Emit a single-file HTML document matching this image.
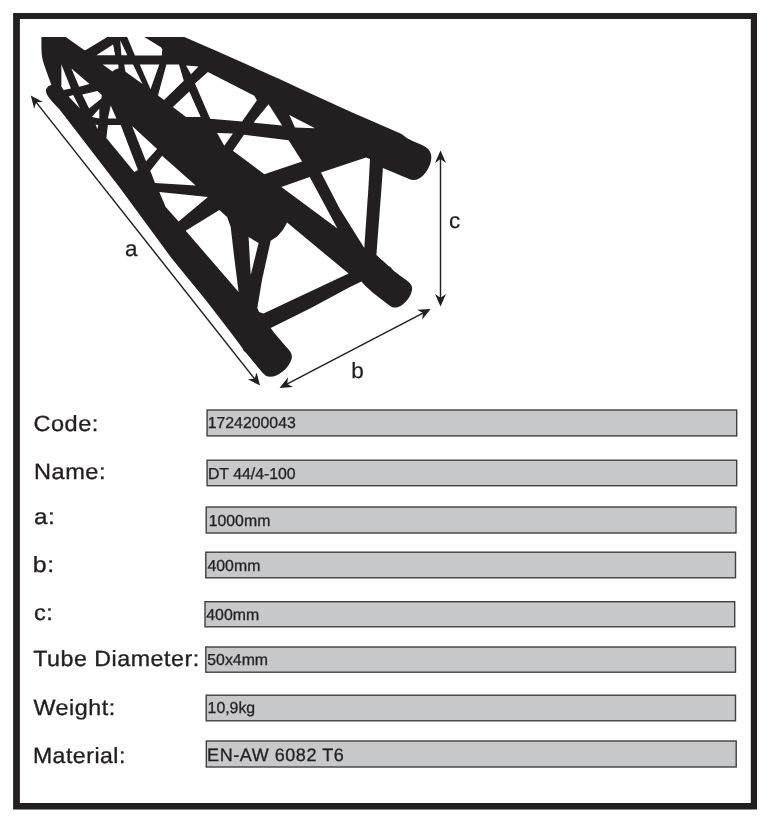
<!DOCTYPE html>
<html><head><meta charset="utf-8"><title>DT 44/4-100</title>
<style>
html,body{margin:0;padding:0;background:#fff;}
body{width:770px;height:823px;position:relative;overflow:hidden;font-family:"Liberation Sans",sans-serif;color:#231f20;}
svg{position:absolute;left:0;top:0;display:block;will-change:transform;}
svg text{font-family:"Liberation Sans",sans-serif;white-space:pre;}
</style></head><body>
<svg width="770" height="823" viewBox="0 0 770 823" text-rendering="geometricPrecision">
<path d="M13.1 13.1H757V809.5H13.1ZM19.9 19V803.1H750.8V19Z" fill="#231f20" fill-rule="evenodd"/>
<path d="M41.40 37.00L65.70 37.00L83.77 49.74Q85.00 50.60 86.28 49.82L107.30 37.00L184.30 37.00L214.30 50.00L280.00 79.30L302.90 90.00L350.00 111.40L400.50 133.60L401.85 134.30Q403.20 135.00 404.80 136.60L404.80 136.60Q406.40 138.20 412.50 140.90L418.60 143.60L421.35 144.75Q424.10 145.90 426.35 147.50L426.35 147.50Q428.60 149.10 429.75 151.35L429.75 151.35Q430.90 153.60 431.20 155.90L431.20 155.90Q431.50 158.20 430.75 161.85L430.75 161.85Q430.00 165.50 427.95 169.10L427.95 169.10Q425.90 172.70 423.65 175.00L423.65 175.00Q421.40 177.30 418.65 178.65L418.65 178.65Q415.90 180.00 413.65 180.00L413.65 180.00Q411.40 180.00 409.10 179.10L409.10 179.10Q406.80 178.20 394.85 173.05L382.90 167.90L381.70 185.00L376.40 255.00L388.60 265.90L390.00 266.80Q391.40 267.70 391.85 268.85L391.85 268.85Q392.30 270.00 399.55 275.25L406.80 280.50L408.65 282.05Q410.50 283.60 411.40 285.45L411.40 285.45Q412.30 287.30 412.05 289.55L412.05 289.55Q411.80 291.80 410.65 294.55L410.65 294.55Q409.50 297.30 407.25 300.00L407.25 300.00Q405.00 302.70 402.75 304.55L402.75 304.55Q400.50 306.40 398.20 307.05L398.20 307.05Q395.90 307.70 394.10 307.50L394.10 307.50Q392.30 307.30 390.90 306.40L390.90 306.40Q389.50 305.50 380.90 298.90L372.30 292.30L365.00 285.50L361.40 281.40L350.00 287.00L310.00 308.60L270.70 327.90L274.10 332.70L285.90 346.40L288.20 348.90Q290.50 351.40 291.40 353.90L291.40 353.90Q292.30 356.40 291.60 359.10L291.60 359.10Q290.90 361.80 288.40 365.45L288.40 365.45Q285.90 369.10 282.70 371.60L282.70 371.60Q279.50 374.10 276.35 375.45L276.35 375.45Q273.20 376.80 270.45 376.80L270.45 376.80Q267.70 376.80 265.90 375.65L265.90 375.65Q264.10 374.50 262.30 372.50L262.30 372.50Q260.50 370.50 253.20 361.60L245.90 352.70L244.55 351.60Q243.20 350.50 242.95 349.30L242.95 349.30Q242.70 348.10 224.20 324.05L205.70 300.00L171.40 258.00L120.00 188.00L60.00 110.00L54.65 104.30Q49.30 98.60 47.65 95.75L47.65 95.75Q46.00 92.90 45.85 91.10L45.85 91.10Q45.70 89.30 47.00 87.70L47.00 87.70Q48.30 86.10 49.85 85.55L51.40 85.00L47.50 74.30Q43.60 63.60 42.50 58.95L42.50 58.95Q41.40 54.30 41.40 45.65Z" fill="#231f20"/>
<polygon points="96.4,55.3 113.1,44.6 115.1,55.3" fill="#fff"/>
<polygon points="120.2,40.3 121.4,55.3 127.3,55.3" fill="#fff"/>
<polygon points="126.8,36.0 142.7,36.0 161.0,47.3 162.3,49.5 161.8,55.4 134.9,55.4" fill="#fff"/>
<polygon points="61.4,64.5 61.4,86.4 63.6,90.0 70.9,88.6" fill="#fff"/>
<polygon points="71.4,68.6 79.1,86.8 89.5,84.1" fill="#fff"/>
<polygon points="68.6,96.4 73.2,95.0 80.0,108.6" fill="#fff"/>
<polygon points="82.3,94.5 97.3,90.9 101.8,95.0 101.4,98.6 89.1,108.6" fill="#fff"/>
<polygon points="102.7,64.6 118.4,64.6 118.4,68.6 115.0,69.5 112.4,71.4" fill="#fff"/>
<polygon points="124.2,64.6 133.0,64.6 142.5,84.0 125.5,71.8" fill="#fff"/>
<polygon points="139.8,64.6 159.3,64.6 150.5,89.3" fill="#fff"/>
<polygon points="166.4,64.6 179.0,64.6 183.8,80.7 164.0,100.0 158.0,95.5" fill="#fff"/>
<polygon points="186.0,65.6 198.4,66.4 191.0,74.3" fill="#fff"/>
<polygon points="195.0,83.6 207.9,72.1 254.3,95.7 256.9,100.3 242.1,121.4 210.2,118.8" fill="#fff"/>
<polygon points="189.3,91.6 200.7,117.1 186.0,117.1 172.9,107.1" fill="#fff"/>
<polygon points="268.6,104.3 253.6,122.6 282.1,125.4" fill="#fff"/>
<polygon points="289.3,115.0 315.0,128.3 295.0,127.4" fill="#fff"/>
<polygon points="232.9,150.7 244.0,134.8 288.6,140.3 302.1,161.4 264.3,174.3" fill="#fff"/>
<polygon points="281.4,186.9 309.7,176.9 337.4,228.6" fill="#fff"/>
<polygon points="321.0,172.6 366.0,157.5 370.0,159.0 368.6,185.0 364.3,247.9 340.0,209.3" fill="#fff"/>
<polygon points="287.1,222.6 348.6,273.6 263.5,313.5 259.0,312.0 257.3,308.0 262.0,280.0 270.7,240.7 277.1,236.4 282.9,230.0" fill="#fff"/>
<polygon points="248.6,237.1 258.6,242.9 250.7,275.0" fill="#fff"/>
<polygon points="219.3,210.0 227.1,217.1 230.7,227.1 234.3,258.0 238.6,292.1 185.7,230.7" fill="#fff"/>
<polygon points="91.9,117.0 99.3,108.6 99.3,118.5" fill="#fff"/>
<polygon points="95.7,124.6 98.3,125.3 97.3,129.0" fill="#fff"/>
<polygon points="110.7,105.5 107.9,118.6 116.4,118.6" fill="#fff"/>
<polygon points="107.9,125.0 120.7,125.0 137.9,170.0 134.3,172.1 106.4,137.9" fill="#fff"/>
<polygon points="132.1,126.0 157.1,149.0 146.0,161.2" fill="#fff"/>
<polygon points="217.1,132.9 232.9,133.6 224.3,145.7" fill="#fff"/>
<polygon points="162.1,155.7 195.7,185.5 155.0,182.9 150.3,170.7" fill="#fff"/>
<polygon points="159.3,192.1 207.9,197.1 178.6,221.4 165.7,207.1" fill="#fff"/>
<line x1="33.3" y1="98.6" x2="257.5" y2="382.5" stroke="#231f20" stroke-width="1.45"/>
<polygon points="30.8,95.5 34.2,108.7 36.2,102.3 42.9,101.9" fill="#231f20"/>
<polygon points="260.0,385.6 247.9,379.2 254.6,378.8 256.6,372.4" fill="#231f20"/>
<line x1="283.0" y1="386.1" x2="427.2" y2="310.8" stroke="#231f20" stroke-width="1.45"/>
<polygon points="279.5,388.0 293.1,387.1 287.2,384.0 288.0,377.3" fill="#231f20"/>
<polygon points="430.7,308.9 422.2,319.6 423.0,312.9 417.1,309.8" fill="#231f20"/>
<line x1="440.5" y1="154.4" x2="440.5" y2="302.4" stroke="#231f20" stroke-width="1.45"/>
<polygon points="440.5,150.4 435.0,162.9 440.5,159.1 446.0,162.9" fill="#231f20"/>
<polygon points="440.5,306.4 435.0,293.9 440.5,297.7 446.0,293.9" fill="#231f20"/>
<text transform="translate(125.0 255.8) scale(1.02 1)" font-size="22" fill="#231f20" stroke="#231f20" stroke-width="0.25">a</text>
<text transform="translate(351.3 378.2) scale(1.02 1)" font-size="22" fill="#231f20" stroke="#231f20" stroke-width="0.25">b</text>
<text transform="translate(449.0 227.9) scale(1.02 1)" font-size="22" fill="#231f20" stroke="#231f20" stroke-width="0.25">c</text>
<rect x="207.10" y="410.00" width="529.60" height="25.90" fill="#c7c8ca" stroke="#404042" stroke-width="1.4"/>
<rect x="207.10" y="460.20" width="529.60" height="25.50" fill="#c7c8ca" stroke="#404042" stroke-width="1.4"/>
<rect x="206.20" y="507.00" width="529.80" height="26.00" fill="#c7c8ca" stroke="#404042" stroke-width="1.4"/>
<rect x="205.80" y="552.20" width="529.70" height="25.60" fill="#c7c8ca" stroke="#404042" stroke-width="1.4"/>
<rect x="205.00" y="601.70" width="529.70" height="25.10" fill="#c7c8ca" stroke="#404042" stroke-width="1.4"/>
<rect x="205.80" y="647.00" width="529.70" height="25.20" fill="#c7c8ca" stroke="#404042" stroke-width="1.4"/>
<rect x="206.20" y="695.20" width="529.30" height="25.60" fill="#c7c8ca" stroke="#404042" stroke-width="1.4"/>
<rect x="206.30" y="741.00" width="529.90" height="26.00" fill="#c7c8ca" stroke="#404042" stroke-width="1.4"/>
<text id="L0" transform="translate(33.4 430.6) scale(1.07 1)" font-size="22" letter-spacing="0.5" fill="#231f20" stroke="#231f20" stroke-width="0.35">Code:</text>
<text id="L1" transform="translate(34.0 478.8) scale(1.07 1)" font-size="22" letter-spacing="0.5" fill="#231f20" stroke="#231f20" stroke-width="0.35">Name:</text>
<text id="L2" transform="translate(34.0 524.4) scale(1.1 1)" font-size="22" letter-spacing="0.5" fill="#231f20" stroke="#231f20" stroke-width="0.35">a:</text>
<text id="L3" transform="translate(32.8 572.1) scale(1.13 1)" font-size="22" letter-spacing="0.5" fill="#231f20" stroke="#231f20" stroke-width="0.35">b:</text>
<text id="L4" transform="translate(34.0 620.4) scale(1.07 1)" font-size="22" letter-spacing="0.5" fill="#231f20" stroke="#231f20" stroke-width="0.35">c:</text>
<text id="L5" transform="translate(33.2 666.2) scale(1.055 1)" font-size="22" letter-spacing="0.5" fill="#231f20" stroke="#231f20" stroke-width="0.35">Tube Diameter:</text>
<text id="L6" transform="translate(33.5 714.5) scale(1.06 1)" font-size="22" letter-spacing="0.5" fill="#231f20" stroke="#231f20" stroke-width="0.35">Weight:</text>
<text id="L7" transform="translate(32.9 762.7) scale(1.047 1)" font-size="22" letter-spacing="0.5" fill="#231f20" stroke="#231f20" stroke-width="0.35">Material:</text>
<text id="V0" x="207.70000000000002" y="427.5" font-size="15.85" letter-spacing="0" fill="#231f20" stroke="#231f20" stroke-width="0.3">1724200043</text>
<text id="V1" x="207.9" y="478.5" font-size="15.85" letter-spacing="0" fill="#231f20" stroke="#231f20" stroke-width="0.3">DT 44/4-100</text>
<text id="V2" x="208.70000000000002" y="525.7" font-size="15.85" letter-spacing="0" fill="#231f20" stroke="#231f20" stroke-width="0.3">1000mm</text>
<text id="V3" x="207.5" y="570.6" font-size="15.85" letter-spacing="0" fill="#231f20" stroke="#231f20" stroke-width="0.3">400mm</text>
<text id="V4" x="206.3" y="620.1" font-size="15.85" letter-spacing="0" fill="#231f20" stroke="#231f20" stroke-width="0.3">400mm</text>
<text id="V5" x="207.3" y="664.8" font-size="15.85" letter-spacing="0" fill="#231f20" stroke="#231f20" stroke-width="0.3">50x4mm</text>
<text id="V6" x="207.60000000000002" y="712.9" font-size="15.85" letter-spacing="0" fill="#231f20" stroke="#231f20" stroke-width="0.3">10,9kg</text>
<text id="V7" x="207.10000000000002" y="760.5" font-size="18" letter-spacing="0.55" fill="#231f20" stroke="#231f20" stroke-width="0.3">EN-AW 6082 T6</text>
</svg>
</body></html>
